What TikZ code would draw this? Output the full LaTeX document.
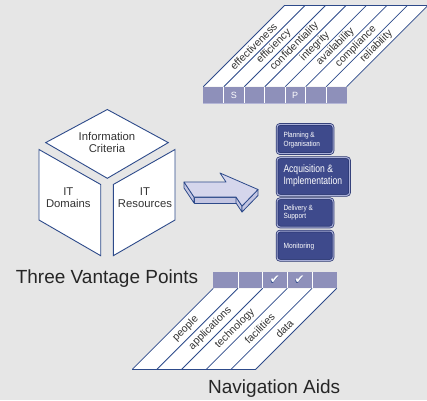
\documentclass[tikz,border=0pt]{standalone}
\usepackage{fontspec}
\setmainfont{Liberation Sans}
\newfontfamily\symfont{DejaVu Sans}
\definecolor{bgc}{HTML}{E6E6E6}
\definecolor{lineblue}{HTML}{2D4A8A}
\definecolor{band}{HTML}{8E90BA}
\definecolor{bandlight}{HTML}{B4B6D6}
\definecolor{arrowtop}{HTML}{D5D6EC}
\definecolor{arrowside}{HTML}{C3C5E2}
\definecolor{boxfill}{HTML}{3E4A8C}
\definecolor{boxedge}{HTML}{26336E}
\definecolor{boxring}{HTML}{A9AFD8}
\begin{document}
\begin{tikzpicture}[x=1pt,y=-1pt,
  ln/.style={draw=lineblue, line width=0.8pt},
  face/.style={fill=white, draw=lineblue, line width=0.9pt, line join=miter},
  divider/.style={draw=white, line width=0.9pt},
  slantlab/.style={inner sep=0pt, rotate=45, font=\fontsize{10.5}{12}\selectfont, text=black!80},
  cubelab/.style={inner sep=0pt, align=center, font=\fontsize{11.3}{12.3}\selectfont, text=black!80},
  biglab/.style={inner sep=0pt, font=\fontsize{19}{22}\selectfont, text=black!85},
  bandlab/.style={inner sep=0pt, font=\fontsize{9}{10}\selectfont, text=white},
  arrowface/.style={fill=arrowside, draw=lineblue, line width=0.8pt, line join=round},
  procbox/.style={anchor=north west, rounded corners=3pt, fill=boxfill, draw=boxedge,
    double=boxring, double distance=1.1pt, line width=0.7pt, inner sep=0pt},
  proctxt/.style={anchor=west, inner sep=0pt, text=white, align=left},
  chk/.style={inner sep=0pt, font=\symfont\fontsize{12}{12}\selectfont}
]
% background and page size
\fill[bgc] (0,0) rectangle (427,400);
\useasboundingbox (0,0) rectangle (427,400);

% ---- information criteria panel (top) ----
\fill[white] (203.3,86.7) -- (346.7,86.7) -- (427.7,5.7) -- (284.3,5.7) -- cycle;
\foreach \i in {0,...,7}
  \draw[ln] (203.3+20.48*\i,86.7) -- ++(81,-81);
\draw[ln] (284.3,5.7) -- (430,5.7);
\fill[band] (203.3,86.7) rectangle (346.7,103.3);
\draw[bandlight, line width=0.8pt] (203.3,103) -- (346.7,103);
\foreach \i in {1,...,6}
  \draw[divider] (203.3+20.48*\i,86.7) -- (203.3+20.48*\i,103.3);
\foreach \t [count=\i from 0] in {effectiveness,efficiency,confidentiality,integrity,availability,compliance,reliability}
  \node[slantlab] (crit\i) at (253.5+20.48*\i,46.5) {\t};
\node[bandlab] (lblS) at (233.8,95.3) {S};
\node[bandlab] (lblP) at (295.2,95.3) {P};

% ---- cube of the three vantage points ----
\filldraw[face] (107.3,109.5) -- (168.3,142.6) -- (107.3,178.3) -- (45.7,142.6) -- cycle;
\filldraw[face] (39,149.5) -- (100.7,184.5) -- (100.7,255.7) -- (39,220) -- cycle;
\filldraw[face] (113.3,184.5) -- (175,149.5) -- (175,220) -- (113.3,255.7) -- cycle;
\node[cubelab] (infocrit) at (107,142.3) {Information\\Criteria};
\node[cubelab] (itdom) at (68.3,197.8) {IT\\Domains};
\node[cubelab] (itres) at (145,197.8) {IT\\Resources};

% ---- block arrow ----
\filldraw[arrowface] (184,182) -- (194,197) -- (194,203) -- (184,188) -- cycle;
\filldraw[arrowface] (194,197) -- (236,197) -- (236,203) -- (194,203) -- cycle;
\filldraw[arrowface] (236,197) -- (242,206) -- (242,212) -- (236,203) -- cycle;
\filldraw[arrowface] (242,206) -- (258,189.5) -- (258,195.5) -- (242,212) -- cycle;
\filldraw[arrowface, fill=arrowtop] (184,182) -- (226,182) -- (220,173) -- (258,189.5)
  -- (242,206) -- (236,197) -- (194,197) -- cycle;

% ---- process domains ----
\node[procbox, minimum width=56pt, minimum height=29.3pt] (po) at (276.7,124) {};
\node[procbox, minimum width=72.6pt, minimum height=37.7pt] (ai) at (276.7,157.3) {};
\node[procbox, minimum width=56pt, minimum height=28.4pt] (ds) at (276.7,198.3) {};
\node[procbox, minimum width=56pt, minimum height=29.3pt] (mo) at (276.7,230.7) {};
\node[proctxt, font=\fontsize{7.5}{8.6}\selectfont] (potxt) at (283.3,140)
  {\scalebox{0.86}[1]{\begin{tabular}{@{}l@{}}Planning \&\\Organisation\end{tabular}}};
\node[proctxt, font=\fontsize{10.7}{11.7}\selectfont] (aitxt) at (283.3,176)
  {\scalebox{0.8}[1]{\begin{tabular}{@{}l@{}}Acquisition \&\\Implementation\end{tabular}}};
\node[proctxt, font=\fontsize{7.5}{8}\selectfont] (dstxt) at (283.3,213.3)
  {\scalebox{0.86}[1]{\begin{tabular}{@{}l@{}}Delivery \&\\Support\end{tabular}}};
\node[proctxt, font=\fontsize{7.5}{8.6}\selectfont] (motxt) at (283.3,246.3)
  {\scalebox{0.88}[1]{Monitoring}};

% ---- resources panel (bottom) ----
\fill[white] (213.3,288.3) -- (336.7,288.3) -- (255.7,369.3) -- (132.3,369.3) -- cycle;
\foreach \i in {0,...,5}
  \draw[ln] (213.3+24.68*\i,288.3) -- ++(-81,81);
\draw[ln] (132.3,369.3) -- (255.7,369.3);
\fill[band] (213.3,271.7) rectangle (336.7,288.3);
\foreach \i in {1,...,4}
  \draw[divider] (213.3+24.68*\i,271.7) -- (213.3+24.68*\i,288.3);
\foreach \t [count=\i from 0] in {people,applications,technology,facilities,data}
  \node[slantlab] (res\i) at (185.6+24.68*\i,328.5) {\t};
\foreach \x/\n in {275/chkA,299.7/chkB} {
  \node[chk, text=lineblue] (\n s) at (\x-0.6,280.6) {✔};
  \node[chk, text=white] (\n) at (\x,280) {✔};
}

% ---- captions ----
\node[biglab] (tvp) at (107,279) {Three Vantage Points};
\node[biglab] (navaids) at (274.2,388.3) {Navigation Aids};
\end{tikzpicture}
\end{document}
